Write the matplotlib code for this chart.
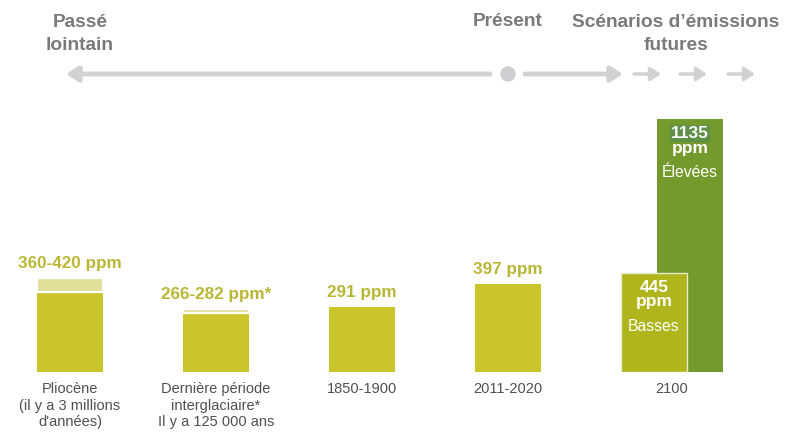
import matplotlib.pyplot as plt
from matplotlib.patches import Ellipse

plt.rcParams['font.family'] = ['Liberation Sans', 'DejaVu Sans']

# data
periods = ['Pliocène\n(il y a 3 millions\nd\'années)',
           'Dernière période\ninterglaciaire*\nIl y a 125 000 ans',
           '1850-1900', '2011-2020', '2100']
low_ppm = [360, 266, 291, 397]
high_ppm = [420, 282, 291, 397]
top_labels = ['360-420 ppm', '266-282 ppm*', '291 ppm', '397 ppm']
scenarios = ['Basses', 'Élevées']
scenario_ppm = [445, 1135]

c_bar = '#c9c52b'
c_light = '#e1e09a'
c_label = '#b9b735'
c_low = '#afb51b'
c_high = '#74992c'
c_gray = '#7a7a7a'
c_arrow = '#d2d2d2'

fig = plt.figure(figsize=(8, 4.41), dpi=100)
W, H = 800, 441
base_px, top_px = 372, 100
ax = fig.add_axes([0, (H - base_px) / H, 1, (base_px - top_px) / H])
px_per_ppm = (372 - 119) / 1135
ax.set_ylim(0, (base_px - top_px) / px_per_ppm)
ax.set_xlim(-70 / 146, (800 - 70) / 146)
ax.axis('off')

bw = 66 / 146
xs = list(range(4))
ax.bar(xs, low_ppm, width=bw, color=c_bar, linewidth=0)
for x, lo, hi in zip(xs, low_ppm, high_ppm):
    if hi > lo:
        ax.bar(x, hi - lo, bottom=lo, width=bw, color=c_light,
               edgecolor='white', linewidth=1.6)
for x, hi, lab in zip(xs, high_ppm, top_labels):
    ax.annotate(lab, (x, hi), xytext=(0, 5), textcoords='offset points',
                ha='center', va='bottom', fontsize=12.3, fontweight='bold',
                color=c_label)

# 2100 scenarios
x_low, x_high = 4, 4 + 36 / 146
ax.bar(x_high, scenario_ppm[1], width=bw, color=c_high, linewidth=0)
ax.bar(x_low, scenario_ppm[0], width=bw, color=c_low,
       edgecolor='#e8ead0', linewidth=1)
for x, v, name in zip([x_low, x_high], scenario_ppm, scenarios):
    box = dict(boxstyle='square,pad=0.05', fc='#5f9048', ec='none') if v > 1000 else None
    ax.annotate(f'{v}', (x, v), xytext=(0, -5), textcoords='offset points',
                ha='center', va='top', fontsize=12.5, fontweight='bold',
                color='white', bbox=box)
    ax.annotate('ppm', (x, v), xytext=(0, -15.5), textcoords='offset points',
                ha='center', va='top', fontsize=12.5, fontweight='bold',
                color='white')
    ax.annotate(name, (x, v), xytext=(0, -33), textcoords='offset points',
                ha='center', va='top', fontsize=11.3, color='white')

# category labels
label_x = xs + [(x_low + x_high) / 2]
for x, lab in zip(label_x, periods):
    ax.annotate(lab, (x, 0), xytext=(0, -7.5), textcoords='offset points',
                ha='center', va='top', fontsize=10.5, color='#505050',
                linespacing=1.2)

# header timeline
fig.text(80 / W, 1 - 34 / H, 'Passé\nlointain', ha='center', va='center',
         fontsize=13.8, fontweight='bold', color=c_gray, linespacing=1.45)
fig.text(508 / W, 1 - 22 / H, 'Présent', ha='center', va='center',
         fontsize=13.8, fontweight='bold', color=c_gray)
fig.text(676 / W, 1 - 34 / H, 'Scénarios d\u2019émissions\nfutures',
         ha='center', va='center', fontsize=13.8, fontweight='bold',
         color=c_gray, linespacing=1.45)

ay = H - 74
fig.add_artist(Ellipse((508 / W, ay / H), 14 / W, 14 / H,
                       transform=fig.transFigure, color='#cfcfd1', zorder=3))
arr = dict(arrowstyle='-|>,head_length=0.7,head_width=0.45', color=c_arrow,
           lw=3.5, shrinkA=0, shrinkB=0)
ax.annotate('', xy=(66, ay), xytext=(490, ay), xycoords='figure pixels',
            textcoords='figure pixels', arrowprops=arr)
ax.annotate('', xy=(623, ay), xytext=(525, ay), xycoords='figure pixels',
            textcoords='figure pixels', arrowprops=arr)
for x0 in [634, 680, 728]:
    ax.annotate('', xy=(x0 + 27, ay), xytext=(x0, ay), xycoords='figure pixels',
                textcoords='figure pixels',
                arrowprops=dict(arrowstyle='-|>,head_length=0.6,head_width=0.4',
                                color=c_arrow, lw=2.5, shrinkA=0, shrinkB=0))

fig.savefig('out.png', dpi=100)
